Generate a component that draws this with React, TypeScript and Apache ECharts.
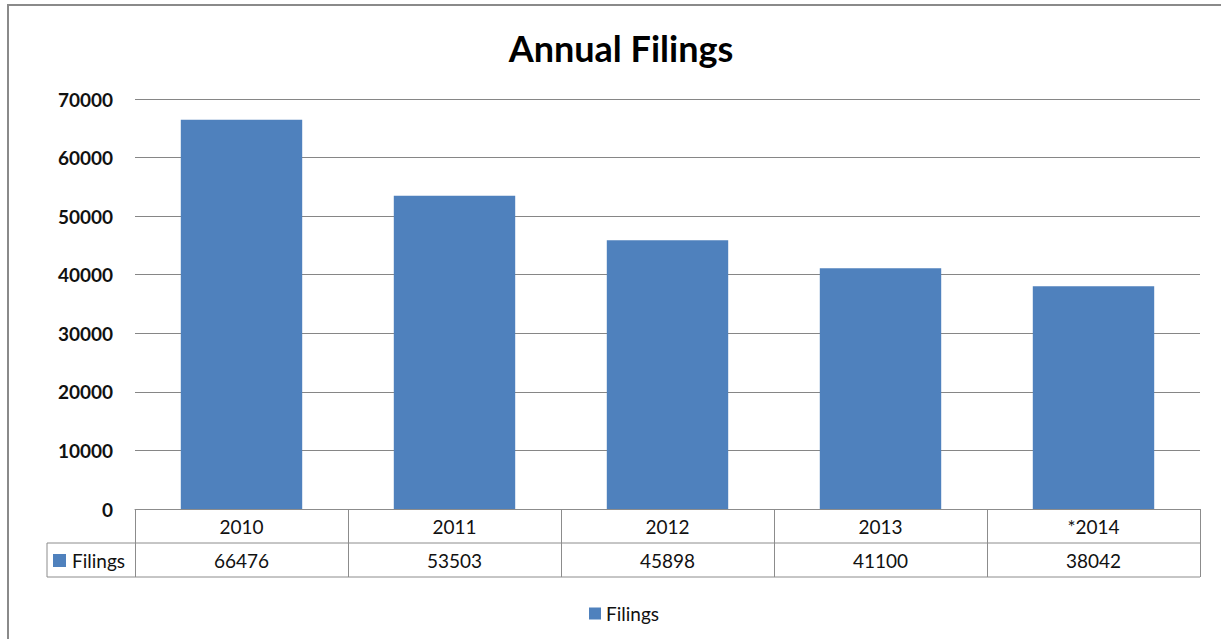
import React, { useEffect, useRef } from "react";
import * as echarts from "echarts";

const categories = ["2010", "2011", "2012", "2013", "*2014"];
const filings = [66476, 53503, 45898, 41100, 38042];
const seriesName = "Filings";
const yMin = 0;
const yMax = 70000;
const yInterval = 10000;

const W = 1221;
const H = 639;
const GRID_L = 135;
const GRID_R = 1200;
const GRID_T = 99;
const GRID_B = 509;
const ROW = 34;
const TABLE_LEFT = 47;
const BAR = "#4F81BD";
const LINE = "#8c8c8c";
const FONT = "Lato, 'Open Sans', sans-serif";

export default function App() {
  const ref = useRef<HTMLDivElement>(null);
  useEffect(() => {
    if (!ref.current) return;
    const chart = echarts.init(ref.current, undefined, { renderer: "svg" });
    const row1 = GRID_B + ROW;
    const row2 = GRID_B + ROW * 2;
    chart.setOption({
      animation: false,
      textStyle: { fontFamily: FONT },
      title: {
        text: "Annual Filings",
        left: 616,
        textAlign: "center",
        top: 25,
        textStyle: { fontFamily: FONT, fontSize: 36, fontWeight: "bold", color: "#000" },
      },
      legend: {
        data: [seriesName],
        left: 584,
        top: 599,
        icon: "rect",
        itemWidth: 12,
        itemHeight: 12,
        itemGap: 5,
        textStyle: { fontFamily: FONT, fontSize: 19, color: "#111" },
      },
      grid: { left: GRID_L, right: W - GRID_R, top: GRID_T, bottom: H - GRID_B },
      xAxis: [
        {
          type: "category",
          data: categories,
          position: "bottom",
          axisLine: { show: true, lineStyle: { color: LINE, width: 1 } },
          axisTick: { show: true, interval: 0, length: ROW * 2, lineStyle: { color: LINE } },
          axisLabel: { margin: 8, fontSize: 19, color: "#111", fontFamily: FONT },
        },
        {
          type: "category",
          data: filings.map((v) => String(v)),
          position: "bottom",
          offset: ROW,
          axisLine: { show: false },
          axisTick: { show: false },
          axisLabel: { margin: 8, fontSize: 19, color: "#111", fontFamily: FONT },
        },
      ],
      yAxis: {
        type: "value",
        min: yMin,
        max: yMax,
        interval: yInterval,
        axisLine: { show: false },
        axisTick: { show: false },
        splitLine: { lineStyle: { color: "#868686", width: 1 } },
        axisLabel: {
          margin: 22,
          fontSize: 19,
          fontWeight: "bold",
          color: "#111",
          fontFamily: FONT,
          formatter: (v: number) => String(v),
        },
      },
      series: [
        {
          name: seriesName,
          type: "bar",
          data: filings,
          barWidth: "57%",
          itemStyle: { color: BAR },
        },
      ],
      graphic: [
        {
          type: "line",
          shape: { x1: TABLE_LEFT, y1: row1, x2: GRID_R, y2: row1 },
          style: { stroke: LINE, lineWidth: 1 },
        },
        {
          type: "line",
          shape: { x1: TABLE_LEFT, y1: row2, x2: GRID_R, y2: row2 },
          style: { stroke: LINE, lineWidth: 1 },
        },
        {
          type: "line",
          shape: { x1: TABLE_LEFT, y1: row1, x2: TABLE_LEFT, y2: row2 },
          style: { stroke: LINE, lineWidth: 1 },
        },
        {
          type: "rect",
          shape: { x: 53, y: row1 + 11, width: 13, height: 13 },
          style: { fill: BAR },
        },
        {
          type: "text",
          x: 72,
          y: row1 + ROW / 2,
          style: {
            text: seriesName,
            fontFamily: FONT,
            fontSize: 19,
            fill: "#111",
            verticalAlign: "middle",
            textAlign: "left",
          },
        },
      ],
    });
    return () => chart.dispose();
  }, []);
  return (
    <div
      style={{
        position: "fixed",
        left: 0,
        top: 0,
        width: W,
        height: H,
        background: "#ffffff",
        overflow: "hidden",
      }}
    >
      <div
        style={{
          position: "absolute",
          left: 7,
          top: 4,
          width: W + 40,
          height: H + 40,
          borderLeft: "2px solid #8a8a8a",
          borderTop: "2px solid #8a8a8a",
        }}
      />
      <div
        ref={ref}
        style={{ position: "absolute", left: 0, top: 0, width: W, height: H }}
      />
    </div>
  );
}
